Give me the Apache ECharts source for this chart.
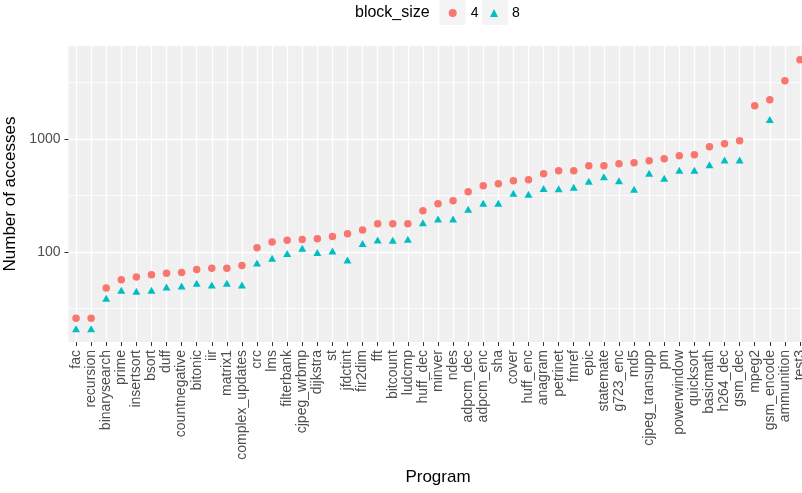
<!DOCTYPE html>
<html lang="en">
<head>
  <meta charset="UTF-8">
  <script src="https://cdn.jsdelivr.net/npm/echarts@6.0.0/dist/echarts.min.js"></script>
  <style>
    body { margin: 0; background: #fff; }
    #container { width: 802px; height: 493px; }
  </style>
</head>
<body>
  <div id="container"></div>
  <script>
    // programs, sorted by accesses at block_size 4
    var programs = ['fac', 'recursion', 'binarysearch', 'prime', 'insertsort', 'bsort', 'duff',
      'countnegative', 'bitonic', 'iir', 'matrix1', 'complex_updates', 'crc', 'lms', 'filterbank',
      'cjpeg_wrbmp', 'dijkstra', 'st', 'jfdctint', 'fir2dim', 'fft', 'bitcount', 'ludcmp', 'huff_dec',
      'minver', 'ndes', 'adpcm_dec', 'adpcm_enc', 'sha', 'cover', 'huff_enc', 'anagram', 'petrinet',
      'fmref', 'epic', 'statemate', 'g723_enc', 'md5', 'cjpeg_transupp', 'pm', 'powerwindow',
      'quicksort', 'basicmath', 'h264_dec', 'gsm_dec', 'mpeg2', 'gsm_encode', 'ammunition', 'test3'];
    var size4 = [26, 26, 48, 57, 60, 63, 65, 66, 70, 72, 72, 76, 109, 123, 127, 129, 131, 137, 145,
      157, 178, 178, 178, 232, 267, 284, 342, 386, 402, 427, 436, 493, 524, 524, 580, 580, 604, 617,
      642, 669, 711, 726, 855, 908, 966, 1970, 2230, 3280, 5030];
    var size8 = [21, 21, 39, 46, 45, 46, 49, 50, 53, 51, 53, 51, 80, 88, 97, 108, 99, 102, 85, 119,
      128, 127, 130, 182, 196, 196, 239, 270, 270, 331, 324, 364, 363, 374, 422, 464, 427, 359, 497,
      449, 528, 528, 593, 652, 652, null, 1490, null, null];
    var yBreaks = [100, 1000];
    var minorBreaks = [31.62, 316.2, 3162];
    var yRange = [16, 6650];

    var myChart = echarts.init(document.getElementById('container'));
    var font = 'Liberation Sans';

    var option = {
      animation: false,
      textStyle: { fontFamily: font },
      title: {
        text: 'block_size',
        left: 355, top: 5, padding: 0,
        textStyle: { fontSize: 16, fontWeight: 'normal', color: '#000', fontFamily: font }
      },
      legend: [
        {
          left: 448.7, top: 6, padding: 0,
          itemWidth: 8, itemHeight: 8,
          textStyle: { fontSize: 14, color: '#000', fontFamily: font, padding: [0, 0, 0, 9] },
          data: [{ name: '4', icon: 'circle' }]
        },
        {
          left: 490, top: 6, padding: 0,
          itemWidth: 8, itemHeight: 8,
          textStyle: { fontSize: 14, color: '#000', fontFamily: font, padding: [0, 0, 0, 9] },
          data: [{ name: '8', icon: 'triangle' }]
        }
      ],
      graphic: [
        { type: 'rect', left: 439.5, top: 0, z: -1, shape: { width: 26, height: 25 }, style: { fill: '#F4F4F4' } },
        { type: 'rect', left: 482, top: 0, z: -1, shape: { width: 26, height: 25 }, style: { fill: '#F4F4F4' } }
      ],
      grid: {
        left: 68.5, right: -5.5, top: 46, bottom: 151,
        outerBoundsMode: 'none',
        show: true, backgroundColor: '#F0F0F0', borderWidth: 0
      },
      xAxis: {
        type: 'category',
        data: programs,
        name: 'Program', nameLocation: 'middle', nameGap: 127,
        nameTextStyle: { fontSize: 17, color: '#000', fontFamily: font },
        axisLine: { show: false },
        axisTick: { show: true, alignWithLabel: true, length: 4, lineStyle: { color: '#333', width: 1 } },
        axisLabel: { interval: 0, rotate: 90, fontSize: 14, color: '#4D4D4D', margin: 8 },
        splitLine: { show: true, interval: 0, alignWithLabel: true, lineStyle: { color: '#fff', width: 1.3 } }
      },
      yAxis: {
        type: 'log',
        min: yRange[0], max: yRange[1],
        name: 'Number of accesses', nameLocation: 'middle', nameGap: 36,
        nameTextStyle: { fontSize: 17, color: '#000', fontFamily: font },
        axisLine: { show: false },
        axisTick: { show: true, length: 4, customValues: yBreaks, lineStyle: { color: '#333', width: 1 } },
        axisLabel: {
          fontSize: 14, color: '#4D4D4D', margin: 8, customValues: yBreaks,
          formatter: function (v) { return String(v); }
        },
        splitLine: { show: true, lineStyle: { color: '#fff', width: 1.3 } }
      },
      series: [
        {
          name: '4', type: 'scatter', symbol: 'circle', symbolSize: 7.5,
          itemStyle: { color: '#F8766D', opacity: 1 },
          data: size4,
          markLine: {
            silent: true, symbol: 'none', z: 1, animation: false,
            label: { show: false },
            emphasis: { disabled: true },
            lineStyle: { color: '#fff', width: 0.8, type: 'solid' },
            data: minorBreaks.map(function (v) { return { yAxis: v }; })
          }
        },
        {
          name: '8', type: 'scatter', symbol: 'triangle', symbolSize: [8, 7],
          itemStyle: { color: '#00BFC4', opacity: 1 },
          data: size8
        }
      ]
    };

    myChart.setOption(option);
  </script>
</body>
</html>
